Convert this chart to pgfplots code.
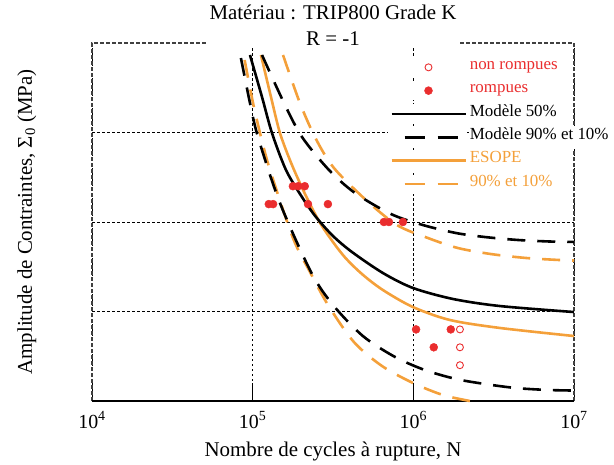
\documentclass[border=0pt]{standalone}
\usepackage{fontspec}
\setmainfont{Liberation Serif}
\usepackage{pgfplots}
\pgfplotsset{compat=1.18}
\definecolor{rred}{RGB}{234,45,46}
\definecolor{rorange}{RGB}{244,160,58}

\begin{document}
\begin{tikzpicture}
\begin{axis}[
  name=ax,
  scale only axis,
  width=482bp, height=358bp,
  xmode=log,
  xmin=1e4, xmax=1e7,
  ymin=0, ymax=4,
  xtick={1e4,1e5,1e6,1e7},
  xticklabels={10\textsuperscript{4},10\textsuperscript{5},10\textsuperscript{6},10\textsuperscript{7}},
  ytick={1,2,3},
  yticklabels={},
  xminorticks=false,
  xtick pos=bottom,
  grid=major,
  major grid style={black, line width=0.7bp, dash pattern=on 2.5bp off 2.5bp},
  xtick style={black, line width=0.9bp},
  major tick length=18bp,
  ytick style={draw=none},
  tick align=inside,
  axis line style={draw=none},
  clip=false,
  xticklabel style={font=\fontsize{20}{21}\selectfont, anchor=base, yshift=-27bp},
  xlabel={Nombre de cycles à rupture, N},
  ylabel={Amplitude de Contraintes, Σ\textsubscript{0} (MPa)},
  xlabel style={font=\fontsize{21}{23}\selectfont, at={(axis description cs:0.5,-0.1564)}, anchor=base},
  ylabel style={font=\fontsize{21}{23}\selectfont, at={(axis description cs:-0.1245,0.5)}, anchor=base},
  legend style={at={(axis description cs:0.6141,0.9651)}, anchor=north west,
    draw=none, fill=none, inner sep=0pt, column sep=2bp, row sep=0pt,
    font=\fontsize{17}{20}\selectfont,
    nodes={fill=white, inner xsep=1bp, inner ysep=0pt, text height=14bp, text depth=9.3bp}},
  legend cell align=left,
  legend image code/.code={
    \fill[white] (-2bp,-9bp) rectangle (74bp,9bp);
    \draw[mark repeat=2,mark phase=2,#1] plot coordinates {(0bp,0bp) (37bp,0bp) (74bp,0bp)};},
]
% legend
\addlegendimage{only marks, mark=o, rred, mark options={line width=0.9bp}, mark size=3.5bp}
\addlegendentry{\textcolor{rred}{non rompues}}
\addlegendimage{only marks, mark=*, rred, mark size=4bp}
\addlegendentry{\textcolor{rred}{rompues}}
\addlegendimage{black, line width=2.6bp}
\addlegendentry{Modèle 50\%}
\addlegendimage{black, line width=2.6bp, dash pattern=on 20bp off 13bp, dash phase=20bp}
\addlegendentry{Modèle 90\% et 10\%}
\addlegendimage{rorange, line width=2.6bp}
\addlegendentry{\textcolor{rorange}{ESOPE}}
\addlegendimage{rorange, line width=2.6bp, dash pattern=on 20bp off 13bp, dash phase=20bp}
\addlegendentry{\textcolor{rorange}{90\% et 10\%}}

% frame
\draw[black!75, line width=1.3bp, dash pattern=on 4bp off 2bp]
  (rel axis cs:0,0) -- (rel axis cs:0,1) -- (rel axis cs:1,1) -- (rel axis cs:1,0);
\draw[black, line width=1.3bp] (rel axis cs:0,0) -- (rel axis cs:1,0);

% ESOPE 90% / 10%
\addplot[forget plot, rorange, line width=2.6bp, smooth, dash pattern=on 18bp off 12bp] coordinates {
  (1.545e5,3.866) (1.968e5,3.330) (2.477e5,2.927) (3.206e5,2.603) (5.070e5,2.246)
  (7.907e5,1.966) (1.233e6,1.821) (1.897e6,1.709) (3.041e6,1.642) (5.023e6,1.598)
  (8.166e6,1.575) (1e7,1.570)};
\addplot[forget plot, rorange, line width=2.6bp, smooth, dash pattern=on 18bp off 12bp] coordinates {
  (8.91e4,3.810) (1.005e5,3.330) (1.127e5,2.950) (1.282e5,2.581) (1.782e5,1.821)
  (2.275e5,1.441) (2.944e5,1.073) (4.266e5,0.659) (6.383e5,0.391) (9.954e5,0.201)
  (1.528e6,0.067) (2.249e6,0)};
% ESOPE 50%
\addplot[forget plot, rorange, line width=2.6bp, smooth] coordinates {
  (1.126e5,3.866) (1.300e5,3.397) (1.479e5,2.994) (1.756e5,2.637) (2.177e5,2.268)
  (2.699e5,1.955) (3.647e5,1.631) (4.788e5,1.419) (6.468e5,1.240) (9.94e5,1.050)
  (1.690e6,0.905) (3.459e6,0.816) (1e7,0.726)};
% Modele 90% / 10%
\addplot[forget plot, black, line width=2.6bp, smooth, dash pattern=on 18bp off 12bp] coordinates {
  (1.143e5,3.866) (1.567e5,3.330) (2.028e5,2.950) (2.985e5,2.581) (4.335e5,2.324)
  (7.261e5,2.089) (1.148e6,1.966) (1.841e6,1.877) (2.793e6,1.832) (4.477e6,1.799)
  (7.079e6,1.782) (1e7,1.777)};
\addplot[forget plot, black, line width=2.6bp, smooth, dash pattern=on 18bp off 12bp] coordinates {
  (8.45e4,3.832) (9.62e4,3.330) (1.079e5,2.950) (1.479e5,2.212) (2.307e5,1.441)
  (3.162e5,1.073) (4.853e5,0.726) (7.691e5,0.492) (1.180e6,0.346) (1.841e6,0.246)
  (2.793e6,0.190) (4.345e6,0.145) (6.887e6,0.123) (1e7,0.117)};
% Modele 50%
\addplot[forget plot, black, line width=2.6bp, smooth] coordinates {
  (9.62e4,3.866) (1.143e5,3.397) (1.319e5,2.994) (1.612e5,2.581) (2.027e5,2.279)
  (2.477e5,2.056) (3.160e5,1.844) (4.149e5,1.665) (6.468e5,1.430) (9.94e5,1.263)
  (1.764e6,1.140) (3.459e6,1.061) (1e7,0.994)};

% essais rompus
\addplot[forget plot, only marks, mark=*, rred, mark size=4bp] coordinates {
  (1.78e5,2.4) (1.92e5,2.4) (2.11e5,2.4)
  (1.26e5,2.2) (1.34e5,2.2) (2.21e5,2.2) (2.94e5,2.2)
  (6.56e5,2.0) (7.05e5,2.0) (8.61e5,2.0)
  (1.04e6,0.8) (1.71e6,0.8) (1.34e6,0.6)};
% essais non rompus
\addplot[forget plot, only marks, mark=o, rred, mark options={line width=0.9bp}, mark size=3.5bp] coordinates {
  (1.95e6,0.8) (1.95e6,0.6) (1.95e6,0.4)};
\end{axis}
\node[fill=white, inner xsep=2bp, inner ysep=2bp, align=center,
  font=\fontsize{21}{26}\selectfont, anchor=north] at ([yshift=40bp]ax.north)
  {Matériau : TRIP800 Grade K\\R = -1};
\pgfresetboundingbox
\path (ax.south west) ++(-92bp,-64bp) rectangle ++(614bp,465bp);
\end{tikzpicture}
\end{document}
